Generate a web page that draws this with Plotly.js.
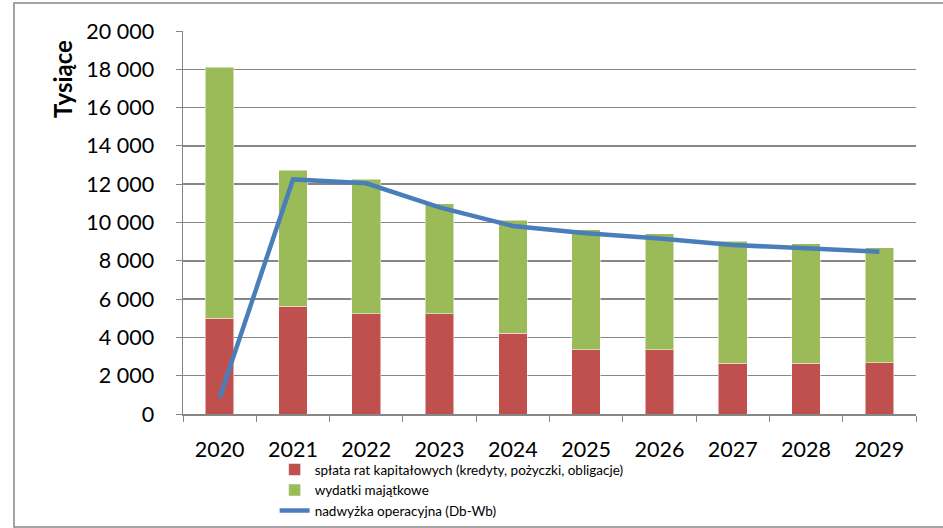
<!DOCTYPE html>
<html><head><meta charset="utf-8">
<script src="https://cdn.plot.ly/plotly-3.0.1.min.js"></script>
<style>html,body{margin:0;padding:0;background:#fff}#c{width:943px;height:528px}</style>
</head><body><div id="c"></div>
<script>
const years = ['2020','2021','2022','2023','2024','2025','2026','2027','2028','2029'];
const splata = [5000, 5620, 5240, 5240, 4230, 3360, 3360, 2660, 2660, 2680];
const wydatki = [13100, 7120, 7030, 5740, 5880, 6250, 6040, 6370, 6220, 6000];
const nadwyzka = [850, 12250, 12050, 10790, 9820, 9440, 9170, 8830, 8650, 8470];
const yTicks = [0,2000,4000,6000,8000,10000,12000,14000,16000,18000,20000];

const font = 'Lato, "Open Sans", sans-serif';
const traces = [
  {type:'bar', x:years, y:splata, name:'spłata rat kapitałowych (kredyty, pożyczki, obligacje)',
   marker:{color:'#c0504d', line:{color:'rgba(255,255,255,0.5)', width:1}}, width:0.39},
  {type:'bar', x:years, y:wydatki, name:'wydatki majątkowe',
   marker:{color:'#9bbb59', line:{color:'rgba(255,255,255,0.5)', width:1}}, width:0.39},
  {type:'scatter', mode:'lines', x:years, y:nadwyzka, name:'nadwyżka operacyjna (Db-Wb)',
   line:{color:'#4a7ebb', width:4.5}}
];
const layout = {
  width:943, height:528,
  margin:{l:183, r:27, t:31, b:114, autoexpand:false},
  barmode:'stack',
  separators:', ',
  paper_bgcolor:'#fff', plot_bgcolor:'#fff',
  font:{family:font, color:'#000'},
  showlegend:true,
  legend:{x:0.125, y:-0.105, xanchor:'left', yanchor:'top', font:{size:13.5, family:font},
    tracegroupgap:0, itemwidth:30, traceorder:'normal', bgcolor:'rgba(0,0,0,0)'},
  xaxis:{type:'category', tickson:'boundaries', ticks:'outside', ticklen:6, tickcolor:'#868686',
    showline:true, linecolor:'#868686', linewidth:1.5, showgrid:false, ticklabelstandoff:16,
    tickfont:{size:21.5, family:font}, fixedrange:true},
  yaxis:{range:[0,20000], tickvals:yTicks, tickformat:',d', ticks:'outside', ticklen:6,
    tickcolor:'#868686', showline:true, linecolor:'#868686', linewidth:1.5,
    showgrid:true, gridcolor:'#868686', gridwidth:1.5, zeroline:false, ticklabelstandoff:17,
    tickfont:{size:21.5, family:font}},
  annotations:[{text:'<b>Tysiące</b>', xref:'paper', yref:'paper', x:-0.1637, y:0.875,
    xanchor:'center', yanchor:'middle', textangle:-90, showarrow:false,
    font:{size:24, family:font, color:'#000'}}],
  shapes:[{type:'rect', xref:'paper', yref:'paper', x0:-0.2306, x1:1.06, y0:-0.295, y1:1.073,
    line:{color:'#868686', width:1.5}, fillcolor:'rgba(0,0,0,0)', layer:'below'}]
};
Plotly.newPlot('c', traces, layout, {staticPlot:true});
</script></body></html>
